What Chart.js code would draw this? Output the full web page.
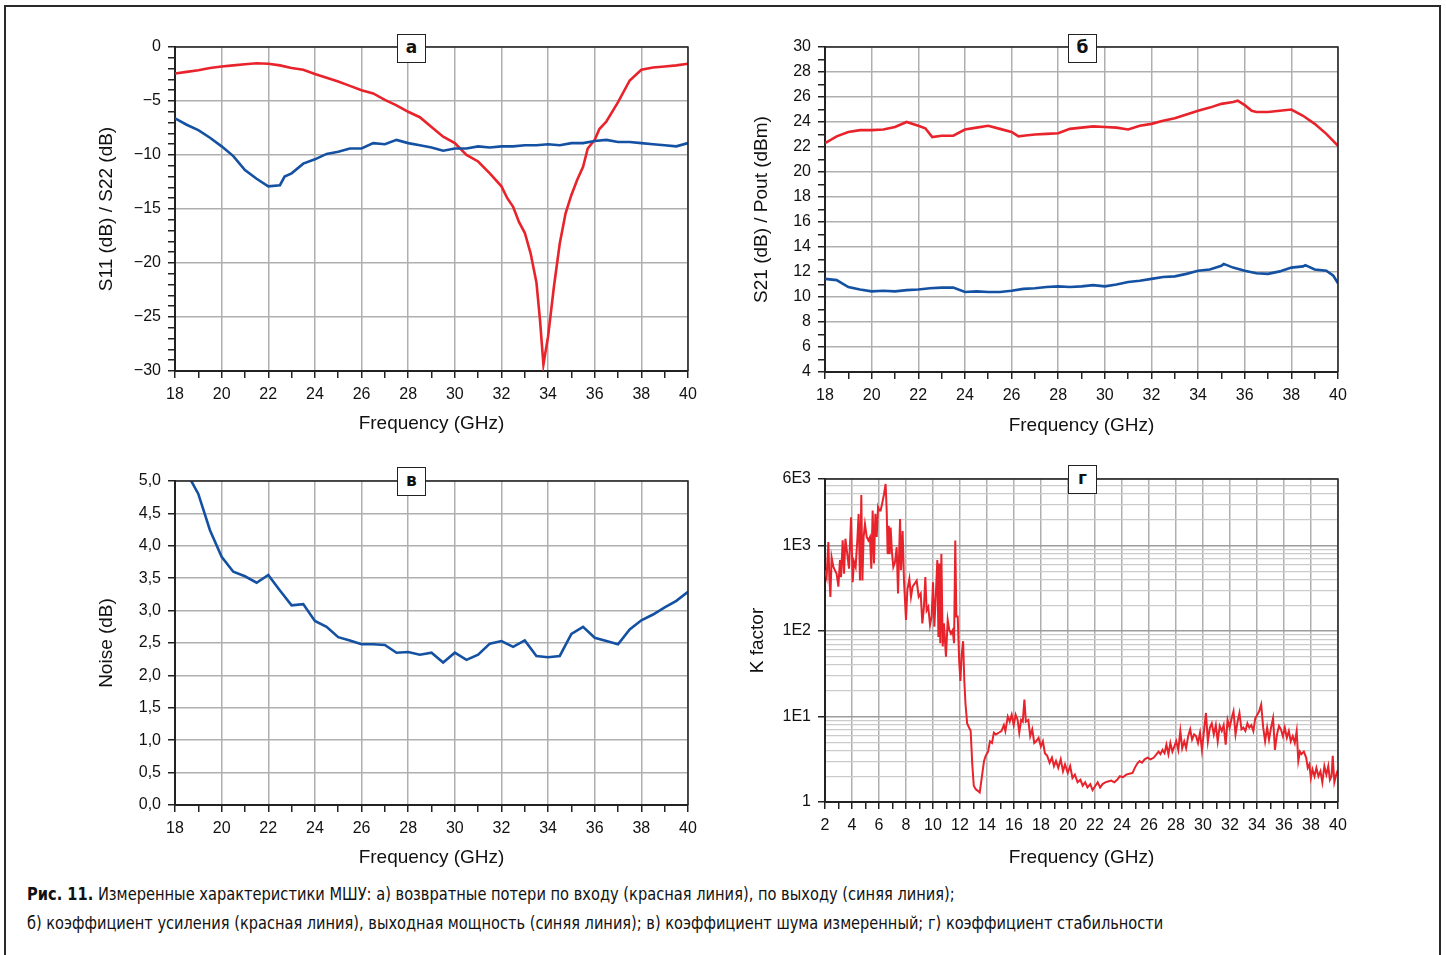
<!DOCTYPE html>
<html lang="ru">
<head>
<meta charset="utf-8">
<title>Рис. 11</title>
<script src="https://cdn.jsdelivr.net/npm/chart.js@4.4.1/dist/chart.umd.min.js"></script>
<style>
  body { margin: 0; background: #fff; width: 1446px; height: 955px; position: relative; overflow: hidden; }
  #moldura { position: absolute; left: 4px; top: 5px; width: 1437px; height: 990px; border: 2px solid #2a2a2a; box-sizing: border-box; }
  canvas { position: absolute; }
  .tag { position: absolute; width: 29px; height: 29px; border: 1.5px solid #222; background: #fff; box-sizing: border-box;
         font: bold 17px 'DejaVu Sans', sans-serif; text-align: center; line-height: 25px; color: #111; z-index: 2; }
  .legenda { position: absolute; left: 27px; white-space: nowrap; font: 18px 'Liberation Sans Narrow', 'DejaVu Sans Condensed', 'Liberation Sans', sans-serif;
             color: #111; line-height: 22px; transform-origin: 0 50%; }
</style>
</head>
<body>
<div id="moldura"></div>

<canvas id="grafA" width="620" height="411" style="left:90px;top:30px"></canvas>
<canvas id="grafB" width="620" height="412" style="left:740px;top:30px"></canvas>
<canvas id="grafC" width="620" height="411" style="left:90px;top:464px"></canvas>
<canvas id="grafD" width="620" height="410" style="left:740px;top:462px"></canvas>

<div class="tag" style="left:397px;top:34px">а</div>
<div class="tag" style="left:1068px;top:34px">б</div>
<div class="tag" style="left:397px;top:467px">в</div>
<div class="tag" style="left:1068px;top:465px">г</div>

<div class="legenda" data-largura="928" style="top:883px"><b>Рис. 11.</b> Измеренные характеристики МШУ: а) возвратные потери по входу (красная линия), по выходу (синяя линия);</div>
<div class="legenda" data-largura="1136" style="top:912px">б) коэффициент усиления (красная линия), выходная мощность (синяя линия); в) коэффициент шума измеренный; г) коэффициент стабильности</div>

<script>
// ---- dados ----

// (а) S11 (vermelho) e S22 (azul), dB
const s11Freq = [18, 18.5, 19, 19.5, 20, 20.5, 21, 21.5, 22, 22.5, 23, 23.5, 24, 24.5, 25, 25.5, 26, 26.5, 27, 27.5,
  28, 28.5, 29, 29.5, 30, 30.5, 31, 31.5, 32, 32.25, 32.5, 32.75, 33, 33.25, 33.5, 33.65, 33.8, 34, 34.25, 34.5,
  34.75, 35, 35.25, 35.5, 35.7, 36, 36.2, 36.5, 37, 37.5, 38, 38.5, 39, 39.5, 40];
const s11Val = [-2.45, -2.3, -2.15, -1.95, -1.8, -1.7, -1.6, -1.5, -1.55, -1.7, -1.95, -2.1, -2.5, -2.85, -3.2, -3.6, -4.0, -4.3, -4.9, -5.4,
  -6.0, -6.5, -7.4, -8.3, -8.9, -10.0, -10.6, -11.7, -12.9, -14.0, -14.8, -16.2, -17.2, -19.1, -21.8, -25.2, -29.4, -26.8, -22.2, -18.2,
  -15.4, -13.7, -12.3, -11.1, -9.4, -8.6, -7.6, -6.9, -5.1, -3.1, -2.1, -1.9, -1.8, -1.7, -1.55];

const s22Freq = [18, 18.5, 19, 19.5, 20, 20.5, 21, 21.5, 22, 22.5, 22.7, 23, 23.5, 24, 24.5, 25, 25.5, 26, 26.5, 27,
  27.5, 28, 28.5, 29, 29.5, 30, 30.5, 31, 31.5, 32, 32.5, 33, 33.5, 34, 34.5, 35, 35.5, 36, 36.5, 37,
  37.5, 38, 38.5, 39, 39.5, 40];
const s22Val = [-6.6, -7.2, -7.7, -8.4, -9.2, -10.1, -11.4, -12.2, -12.9, -12.8, -12.0, -11.7, -10.8, -10.4, -9.9, -9.7, -9.4, -9.4, -8.9, -9.0,
  -8.6, -8.9, -9.1, -9.3, -9.6, -9.4, -9.4, -9.2, -9.3, -9.2, -9.2, -9.1, -9.1, -9.0, -9.1, -8.9, -8.9, -8.7, -8.6, -8.8,
  -8.8, -8.9, -9.0, -9.1, -9.2, -8.9];

// (б) S21 (vermelho, dB) e Pout (azul, dBm)
const s21Freq = [18, 18.5, 19, 19.5, 20, 20.5, 21, 21.5, 22, 22.3, 22.6, 23, 23.5, 24, 24.5, 25, 25.5, 26, 26.3, 26.5,
  27, 27.5, 28, 28.5, 29, 29.5, 30, 30.5, 31, 31.5, 32, 32.5, 33, 33.5, 34, 34.5, 35, 35.5, 35.7, 36,
  36.3, 36.5, 37, 37.5, 38, 38.5, 39, 39.5, 40];
const s21Val = [22.3, 22.85, 23.2, 23.35, 23.35, 23.4, 23.6, 24.0, 23.7, 23.5, 22.8, 22.9, 22.9, 23.4, 23.55, 23.7, 23.45, 23.2, 22.85, 22.9,
  23.0, 23.05, 23.1, 23.45, 23.55, 23.65, 23.6, 23.55, 23.4, 23.7, 23.85, 24.1, 24.3, 24.6, 24.9, 25.15, 25.45, 25.6, 25.7, 25.35,
  24.9, 24.8, 24.8, 24.9, 25.0, 24.5, 23.85, 23.05, 22.1];

const poutFreq = [18, 18.5, 19, 19.5, 20, 20.5, 21, 21.5, 22, 22.5, 23, 23.5, 24, 24.5, 25, 25.5, 26, 26.5, 27, 27.5,
  28, 28.5, 29, 29.5, 30, 30.5, 31, 31.5, 32, 32.5, 33, 33.5, 34, 34.5, 35, 35.1, 35.5, 36, 36.5, 37,
  37.5, 38, 38.5, 38.6, 39, 39.5, 39.8, 40];
const poutVal = [11.45, 11.35, 10.8, 10.6, 10.45, 10.5, 10.45, 10.55, 10.6, 10.7, 10.75, 10.75, 10.4, 10.45, 10.4, 10.4, 10.5, 10.65, 10.7, 10.8,
  10.85, 10.8, 10.85, 10.95, 10.85, 11.0, 11.2, 11.3, 11.45, 11.6, 11.65, 11.85, 12.1, 12.2, 12.5, 12.65, 12.35, 12.1, 11.9, 11.85,
  12.05, 12.35, 12.45, 12.55, 12.2, 12.1, 11.7, 11.1];

// (в) ruído, dB
const noiseFreq = [18.5, 19, 19.5, 20, 20.5, 21, 21.5, 22, 22.5, 23, 23.5, 24, 24.5, 25, 25.5, 26, 26.5, 27, 27.5, 28,
  28.5, 29, 29.5, 30, 30.5, 31, 31.5, 32, 32.5, 33, 33.5, 34, 34.5, 35, 35.5, 36, 36.5, 37, 37.5, 38,
  38.5, 39, 39.5, 40];
const noiseVal = [5.13, 4.80, 4.24, 3.83, 3.60, 3.53, 3.43, 3.55, 3.31, 3.08, 3.10, 2.84, 2.75, 2.59, 2.54, 2.48, 2.48, 2.47, 2.35, 2.36,
  2.32, 2.35, 2.20, 2.35, 2.24, 2.32, 2.49, 2.53, 2.44, 2.54, 2.30, 2.28, 2.30, 2.64, 2.75, 2.58, 2.53, 2.48, 2.71, 2.85,
  2.94, 3.05, 3.15, 3.29];

// (г) fator K
const kFreq = [
  2.0, 2.12, 2.25, 2.32, 2.4, 2.49, 2.62, 2.74, 2.86, 2.99,
  3.11, 3.19, 3.31, 3.41, 3.51, 3.65, 3.78, 3.93, 4.05, 4.15,
  4.27, 4.40, 4.49, 4.59, 4.69, 4.77, 4.86, 4.96, 5.09, 5.21,
  5.33, 5.43, 5.53, 5.63, 5.73, 5.83, 5.93, 6.02, 6.12, 6.22,
  6.37, 6.49, 6.57, 6.64, 6.72, 6.79, 6.86, 6.96, 7.06, 7.19,
  7.31, 7.41, 7.56, 7.63, 7.75, 7.85, 8.0, 8.10, 8.25, 8.37,
  8.49, 8.62, 8.79, 8.94, 9.09, 9.21, 9.33, 9.43, 9.53, 9.65,
  9.78, 9.90, 10.0, 10.10, 10.22, 10.32, 10.40, 10.47, 10.54, 10.62,
  10.72, 10.81, 10.96, 11.09, 11.21, 11.33, 11.46, 11.56, 11.65, 11.73,
  11.83, 11.94, 12.03, 12.12, 12.23, 12.32, 12.41, 12.53, 12.67, 12.79,
  12.91, 13.02, 13.17, 13.32, 13.46, 13.61, 13.78, 13.90, 14.08, 14.22,
  14.37, 14.51, 14.66, 14.87, 15.07, 15.25, 15.36, 15.54, 15.68, 15.83,
  15.98, 16.12, 16.27, 16.39, 16.53, 16.65, 16.77, 16.88, 17.06, 17.20,
  17.35, 17.50, 17.64, 17.82, 17.99, 18.14, 18.29, 18.46, 18.64, 18.81,
  18.96, 19.11, 19.28, 19.46, 19.63, 19.78, 19.98, 20.16, 20.33, 20.51,
  20.71, 20.92, 21.09, 21.27, 21.44, 21.65, 21.82, 22.03, 22.20, 22.38,
  22.56, 22.76, 22.96, 23.20, 23.43, 23.64, 23.84, 24.08, 24.31, 24.54,
  24.78, 24.95, 25.13, 25.30, 25.48, 25.68, 25.89, 26.12, 26.36, 26.56,
  26.71, 26.85, 27.0, 27.15, 27.29, 27.44, 27.58, 27.73, 27.88, 28.02,
  28.17, 28.32, 28.46, 28.61, 28.75, 28.90, 29.05, 29.19, 29.34, 29.49,
  29.63, 29.78, 29.92, 30.07, 30.22, 30.36, 30.51, 30.65, 30.80, 30.95,
  31.09, 31.24, 31.39, 31.53, 31.68, 31.82, 31.97, 32.12, 32.26, 32.41,
  32.56, 32.70, 32.85, 32.99, 33.14, 33.29, 33.43, 33.58, 33.73, 33.87,
  34.02, 34.16, 34.31, 34.46, 34.60, 34.75, 34.89, 35.04, 35.19, 35.33,
  35.48, 35.63, 35.77, 35.92, 36.06, 36.21, 36.36, 36.50, 36.65, 36.80,
  36.94, 37.06, 37.18, 37.29, 37.47, 37.64, 37.76, 37.88, 37.99, 38.11,
  38.26, 38.40, 38.55, 38.70, 38.84, 38.99, 39.14, 39.28, 39.40, 39.52,
  39.61, 39.73, 39.87, 40.0];
const kVal = [
  513, 427, 1096, 427, 251, 724, 562, 513, 468, 331,
  676, 427, 1148, 468, 1202, 794, 537, 2138, 372, 646,
  562, 1202, 2344, 389, 3890, 389, 1259, 1778, 1259, 1148,
  1259, 537, 2570, 617, 2344, 1259, 2818, 2570, 2570, 3020,
  3981, 5248, 2570, 794, 1698, 794, 1622, 832, 562, 646,
  955, 275, 2042, 513, 1479, 389, 135, 302, 407, 251,
  331, 355, 389, 251, 275, 123, 191, 427, 174, 191,
  117, 148, 372, 112, 288, 676, 85, 617, 72, 794,
  66, 123, 50, 135, 102, 93, 102, 72, 1148, 148,
  148, 44, 26, 52, 76, 26, 13.8, 8.3, 7.4, 6.8,
  2.75, 1.55, 1.41, 1.35, 1.29, 1.91, 3.02, 3.47, 3.89, 5.13,
  4.90, 6.46, 6.17, 6.46, 6.76, 7.94, 6.76, 10.0, 8.71, 10.5,
  7.94, 10.5, 9.12, 6.46, 9.12, 8.71, 15.8, 8.71, 9.12, 5.89,
  7.08, 4.90, 5.13, 5.62, 4.47, 5.13, 3.72, 3.47, 2.88, 3.31,
  2.63, 3.02, 2.51, 3.16, 2.29, 2.75, 2.19, 2.63, 1.91, 2.09,
  1.70, 1.82, 1.55, 1.70, 1.48, 1.62, 1.38, 1.55, 1.70, 1.48,
  1.62, 1.70, 1.74, 1.78, 1.70, 1.82, 2.00, 1.95, 2.09, 2.14,
  2.19, 2.51, 2.82, 3.02, 2.88, 3.16, 3.31, 3.16, 3.31, 3.63,
  3.89, 3.63, 4.07, 3.72, 4.68, 3.63, 4.90, 3.89, 4.47, 5.13,
  4.07, 6.76, 4.27, 5.13, 4.27, 5.89, 7.08, 5.37, 6.17, 5.89,
  4.90, 6.46, 4.07, 6.76, 11.0, 5.13, 7.41, 8.32, 6.17, 7.94,
  5.13, 7.76, 6.76, 7.94, 4.68, 9.12, 7.41, 9.55, 11.5, 6.17,
  8.71, 11.0, 7.08, 7.41, 6.76, 8.32, 7.41, 7.94, 6.76, 9.55,
  10.5, 11.5, 13.8, 7.41, 5.13, 7.41, 5.37, 7.41, 9.55, 4.07,
  6.17, 7.76, 7.08, 5.89, 7.41, 5.62, 6.76, 5.13, 5.89, 4.90,
  6.76, 3.02, 3.89, 3.63, 3.89, 3.31, 2.51, 2.75, 1.91, 2.40,
  2.00, 2.51, 2.00, 2.29, 1.70, 2.63, 2.09, 2.63, 1.82, 2.00,
  3.47, 1.70, 2.09, 2.40];

// marcas do eixo logarítmico
const kTickValues = [1, 2, 3, 4, 5, 6, 7, 8, 9, 10, 20, 30, 40, 50, 60, 70, 80, 90,
  100, 200, 300, 400, 500, 600, 700, 800, 900, 1000, 2000, 3000, 4000, 5000, 6000];
const kLabelValues = [1, 10, 100, 1000, 6000];
const kLabelText = ['1', '1E1', '1E2', '1E3', '6E3'];

// ---- estilo ----
const VERMELHO = '#e8232b';
const AZUL = '#1451a2';
const GRADE = '#afafaf';
const EIXO = '#222';
const FONTE_TICK = 16;
const FONTE_TITULO = 19;

Chart.defaults.font.family = "'Liberation Sans', Arial, sans-serif";
Chart.defaults.color = '#111';

// une as duas listas em pontos {x, y}
function pontos(xs, ys) {
  return xs.map((x, i) => ({ x: x, y: ys[i] }));
}

// desenha a moldura de cima e da direita
const molduraPlugin = {
  id: 'moldura',
  afterDraw(chart) {
    const { ctx, chartArea: a } = chart;
    ctx.save();
    ctx.strokeStyle = EIXO;
    ctx.lineWidth = 1.5;
    ctx.beginPath();
    ctx.moveTo(a.left, a.top);
    ctx.lineTo(a.right, a.top);
    ctx.lineTo(a.right, a.bottom);
    ctx.stroke();
    ctx.restore();
  }
};

function eixoX(min, max, padTitulo) {
  return {
    type: 'linear', min: min, max: max,
    afterFit: s => { s.height = 70; },
    ticks: {
      stepSize: 1, autoSkip: false, maxRotation: 0, padding: 7, font: { size: FONTE_TICK },
      callback: v => (v % 2 === 0 ? String(v) : '')
    },
    grid: {
      color: c => (c.tick && c.tick.value % 2 === 0 ? GRADE : 'rgba(0,0,0,0)'),
      lineWidth: 1.5, tickLength: 7, tickColor: EIXO, tickWidth: 1.5
    },
    border: { color: EIXO, width: 2 },
    title: { display: true, text: 'Frequency (GHz)', font: { size: FONTE_TITULO }, padding: { top: 0, bottom: padTitulo } }
  };
}

function eixoY(opcoes, titulo, padTitulo) {
  return Object.assign({
    afterFit: s => { s.width = 85; },
    border: { color: EIXO, width: 2 },
    title: { display: true, text: titulo, font: { size: FONTE_TITULO }, padding: { top: padTitulo, bottom: 0 } }
  }, opcoes);
}

function serie(xs, ys, cor, largura) {
  return {
    data: pontos(xs, ys), borderColor: cor, borderWidth: largura,
    pointRadius: 0, tension: 0, fill: false
  };
}

function grafico(id, datasets, scales) {
  new Chart(document.getElementById(id), {
    type: 'line',
    data: { datasets: datasets },
    options: {
      responsive: false, animation: false, devicePixelRatio: 1,
      layout: { padding: { top: 17, right: 22, left: 0, bottom: 0 } },
      plugins: { legend: { display: false }, tooltip: { enabled: false } },
      scales: scales
    },
    plugins: [molduraPlugin]
  });
}

// (а)
grafico('grafA', [
  serie(s22Freq, s22Val, AZUL, 2.6),
  serie(s11Freq, s11Val, VERMELHO, 2.6)
], {
  x: eixoX(18, 40, 6),
  y: eixoY({
    type: 'linear', min: -30, max: 0,
    ticks: {
      stepSize: 1, autoSkip: false, padding: 7, font: { size: FONTE_TICK },
      callback: v => (v % 5 === 0 ? (v < 0 ? '\u2212' + Math.abs(v) : String(v)) : '')
    },
    grid: {
      color: c => (c.tick && c.tick.value % 5 === 0 ? GRADE : 'rgba(0,0,0,0)'),
      lineWidth: 1.5, tickLength: 7, tickColor: EIXO, tickWidth: 1.5
    }
  }, 'S11 (dB) / S22 (dB)', 5)
});

// (б)
grafico('grafB', [
  serie(s21Freq, s21Val, VERMELHO, 2.6),
  serie(poutFreq, poutVal, AZUL, 2.6)
], {
  x: eixoX(18, 40, 5),
  y: eixoY({
    type: 'linear', min: 4, max: 30,
    ticks: {
      stepSize: 1, autoSkip: false, padding: 7, font: { size: FONTE_TICK },
      callback: v => (v % 2 === 0 ? String(v) : '')
    },
    grid: {
      color: c => (c.tick && c.tick.value % 2 === 0 ? GRADE : 'rgba(0,0,0,0)'),
      lineWidth: 1.5, tickLength: 7, tickColor: EIXO, tickWidth: 1.5
    }
  }, 'S21 (dB) / Pout (dBm)', 10)
});

// (в)
grafico('grafC', [
  serie(noiseFreq, noiseVal, AZUL, 2.6)
], {
  x: eixoX(18, 40, 6),
  y: eixoY({
    type: 'linear', min: 0, max: 5,
    ticks: {
      stepSize: 0.5, autoSkip: false, padding: 7, font: { size: FONTE_TICK },
      callback: v => v.toFixed(1).replace('.', ',')
    },
    grid: { color: GRADE, lineWidth: 1.5, tickLength: 7, tickColor: EIXO, tickWidth: 1.5 }
  }, 'Noise (dB)', 5)
});

// (г)
grafico('grafD', [
  serie(kFreq, kVal, VERMELHO, 2)
], {
  x: eixoX(2, 40, 3),
  y: eixoY({
    type: 'logarithmic', min: 1, max: 6000,
    afterBuildTicks: s => { s.ticks = kTickValues.map(v => ({ value: v })); },
    ticks: {
      autoSkip: false, padding: 7, font: { size: FONTE_TICK },
      callback: v => {
        const i = kLabelValues.indexOf(v);
        return i >= 0 ? kLabelText[i] : '';
      }
    },
    grid: {
      color: c => (c.tick && kLabelValues.indexOf(c.tick.value) >= 0 ? '#9c9c9c' : '#cbcbcb'),
      lineWidth: c => (c.tick && kLabelValues.indexOf(c.tick.value) >= 0 ? 1.5 : 1.2),
      tickLength: 7, tickWidth: 1.5,
      tickColor: c => (c.tick && kLabelValues.indexOf(c.tick.value) >= 0 ? EIXO : 'rgba(0,0,0,0)')
    }
  }, 'K factor', 6)
});

// ajusta a largura da legenda à da figura
document.querySelectorAll('.legenda').forEach(el => {
  const alvo = Number(el.dataset.largura);
  el.style.transform = 'scaleX(' + (alvo / el.offsetWidth) + ')';
});
</script>
</body>
</html>
